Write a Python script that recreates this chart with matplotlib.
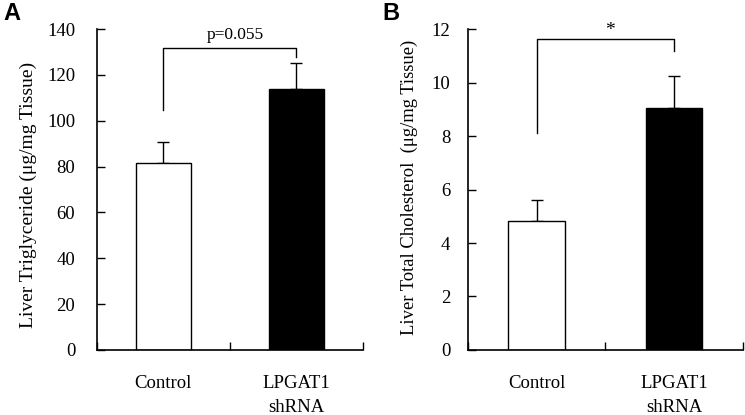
import matplotlib.pyplot as plt

groups = ["Control", "LPGAT1\nshRNA"]
tg_mean = [81.7, 113.8]
tg_err = [8.9, 11.2]
chol_mean = [4.84, 9.05]
chol_err = [0.79, 1.22]

plt.rcParams['font.family'] = ['Liberation Serif', 'DejaVu Serif']
plt.rcParams['font.size'] = 13.5

fig = plt.figure(figsize=(7.45, 4.15), dpi=100)
axA = fig.add_axes([0.130, 0.157, 0.357, 0.773])
axB = fig.add_axes([0.628, 0.157, 0.369, 0.772])


def panel(ax, means, errs, ymax, ystep, ylabel, ypad, lsize, lx, ly):
    x = [0.5, 1.5]
    ax.bar(x, means, width=0.41, color=['white', 'black'], edgecolor='black', linewidth=1.0, zorder=2)
    ax.errorbar(x, means, yerr=[[0, 0], errs], fmt='none', ecolor='black',
                elinewidth=1.0, capsize=4, capthick=1.0, zorder=1)
    ax.set_xlim(0, 2)
    ax.set_ylim(0, ymax)
    ax.set_yticks([i * ystep for i in range(int(ymax / ystep) + 1)])
    ax.set_xticks([0, 1, 2])
    ax.set_xticklabels([])
    ax.set_xticks(x, minor=True)
    ax.set_xticklabels(groups, minor=True, linespacing=1.55)
    ax.tick_params(axis='x', which='minor', length=0, pad=18)
    ax.tick_params(axis='both', which='major', direction='in', length=6, width=1.0)
    ax.tick_params(axis='y', pad=ypad)
    for s in ['top', 'right']:
        ax.spines[s].set_visible(False)
    for s in ['left', 'bottom']:
        ax.spines[s].set_linewidth(1.2)
    ax.set_ylabel(ylabel, fontsize=lsize)
    ax.yaxis.set_label_coords(lx, ly)


panel(axA, tg_mean, tg_err, 140, 20, "Liver Triglyceride (\u03bcg/mg Tissue)", 15.5, 14, -0.226, 0.484)
panel(axB, chol_mean, chol_err, 12, 2, "Liver Total Cholesterol  (\u03bcg/mg Tissue)", 12.5, 13.4, -0.182, 0.507)

# significance brackets
axA.plot([0.5, 0.5, 1.5, 1.5], [104.7, 131.6, 131.6, 127.9], color='black', lw=1.0, clip_on=False)
axA.text(1.04, 134.0, "p=0.055", ha='center', va='bottom', fontsize=12.5)
axB.plot([0.5, 0.5, 1.5, 1.5], [8.11, 11.64, 11.64, 11.2], color='black', lw=1.0, clip_on=False)
axB.text(1.03, 11.65, "*", ha='center', va='bottom', fontsize=14)

fig.text(0.005, 0.995, "A", fontsize=17, fontweight='bold', family='Liberation Sans', ha='left', va='top')
fig.text(0.513, 0.995, "B", fontsize=17, fontweight='bold', family='Liberation Sans', ha='left', va='top')

fig.savefig("out.png", dpi=100)
